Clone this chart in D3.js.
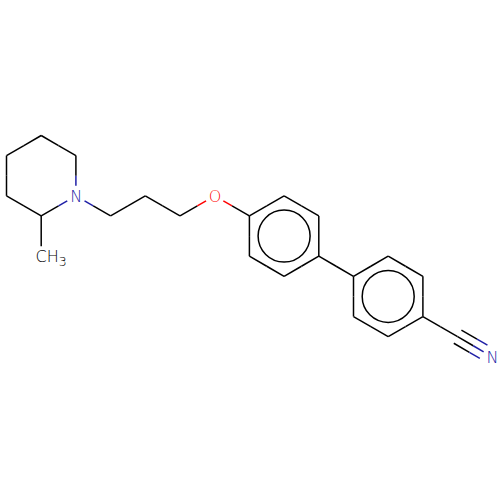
<!DOCTYPE html>
<html><head><meta charset="utf-8">
<script src="https://cdn.jsdelivr.net/npm/d3@7"></script>
<style>html,body{margin:0;background:#fff}svg{display:block}text{font-family:"DejaVu Sans","Liberation Sans",sans-serif;font-weight:200}</style></head>
<body><div id="c"></div>
<script>
// Atom positions in bond-length units
const atomX=[0.866,1.732,1.732,0.866,0,0,0.866,2.598,3.464,4.33,5.196,6.062,6.062,6.928,7.794,7.794,6.928,8.66,8.66,9.526,10.392,10.392,9.526,11.258,12.124];
const atomY=[2,1.5,0.5,0,0.5,1.5,3,2,1.5,2,1.5,2,3,3.5,3,2,1.5,3.5,4.5,5,4.5,3.5,3,5,5.5];
const atomElement=["C","N","C","C","C","C","C","C","C","C","O","C","C","C","C","C","C","C","C","C","C","C","C","C","N"];
const bondFrom=[0,1,2,3,4,5,0,1,7,8,9,10,11,12,13,14,15,16,14,17,18,19,20,21,22,20,23];
const bondTo=[1,2,3,4,5,0,6,7,8,9,10,11,12,13,14,15,16,11,17,18,19,20,21,22,17,23,24];
const bondOrder=[1,1,1,1,1,1,1,1,1,1,1,1,1,1,1,1,1,1,1,1,1,1,1,1,1,1,3];
const aromaticRings=[[11,12,13,14,15,16],[17,18,19,20,21,22]];
const atomText=[{atom:1,label:"N"},{atom:10,label:"O"},{atom:24,label:"N"}];
const colorOf={C:"#000000",N:"#1f1fa6",O:"#ff0000"};

const W=500,H=500;
const x=d3.scaleLinear().domain([0,12.124]).range([6.5,492.3]);
const y=d3.scaleLinear().domain([0,5.5]).range([135.5,356.8]);
const svg=d3.select("#c").append("svg").attr("width",W).attr("height",H).attr("viewBox",[0,0,W,H]);
const LW=1.5, labelGap=10;
const segs=[];
bondFrom.forEach((a,i)=>{
  const b=bondTo[i];
  const x1=x(atomX[a]),y1=y(atomY[a]),x2=x(atomX[b]),y2=y(atomY[b]);
  const len=Math.hypot(x2-x1,y2-y1),ux=(x2-x1)/len,uy=(y2-y1)/len;
  const hasLabel=k=>atomElement[k]!=="C"||k===6;
  const t1=hasLabel(a)?labelGap:0, t2=hasLabel(b)?labelGap:0;
  const offs=bondOrder[i]===3?[-7.6,0,7.6]:[0];
  offs.forEach(o=>{
    const px=-uy*o,py=ux*o;
    const sx=x1+ux*t1+px,sy=y1+uy*t1+py,ex=x2-ux*t2+px,ey=y2-uy*t2+py;
    const mx=(x1+x2)/2+px+ux*(bondOrder[i]===3?-2:0),my=(y1+y2)/2+py+uy*(bondOrder[i]===3?-2:0);
    segs.push({x1:sx,y1:sy,x2:mx,y2:my,c:colorOf[atomElement[a]]});
    segs.push({x1:mx,y1:my,x2:ex,y2:ey,c:colorOf[atomElement[b]]});
  });
});
svg.append("g").attr("stroke-width",LW).attr("stroke-linecap","butt")
 .selectAll("line").data(segs).join("line")
 .attr("x1",d=>d.x1).attr("y1",d=>d.y1).attr("x2",d=>d.x2).attr("y2",d=>d.y2)
 .attr("stroke",d=>d.c);
svg.append("g").selectAll("circle").data(aromaticRings).join("circle")
 .attr("cx",r=>d3.mean(r,k=>x(atomX[k])))
 .attr("cy",r=>d3.mean(r,k=>y(atomY[k])))
 .attr("r",26).attr("fill","none").attr("stroke","#000").attr("stroke-width",LW);
svg.append("g").selectAll("text").data(atomText).join("text")
 .attr("x",d=>x(atomX[d.atom])+0.3).attr("y",d=>y(atomY[d.atom])+5.8)
 .attr("text-anchor","middle").attr("font-size",16)
 .attr("fill",d=>colorOf[atomElement[d.atom]]).text(d=>d.label);
const m=svg.append("text").attr("x",x(atomX[6])-5.6).attr("y",y(atomY[6])+5.8)
 .attr("font-size",16).attr("fill","#000");
m.append("tspan").text("CH");
m.append("tspan").attr("font-size",12.5).attr("dy",4).text("3");
</script>
</body></html>
